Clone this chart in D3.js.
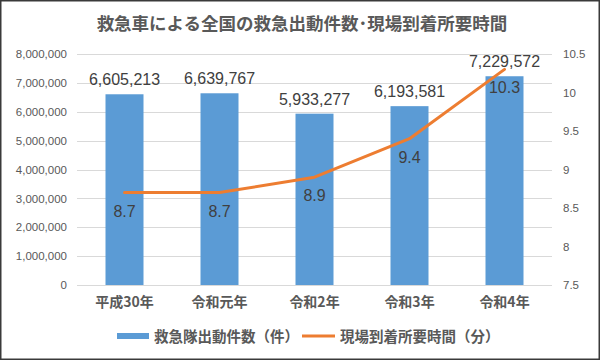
<!DOCTYPE html>
<html>
<head>
<meta charset="utf-8">
<script src="https://cdn.jsdelivr.net/npm/d3@7"></script>
<style>
    body { margin: 0; background: #fff; }
    svg text { font-family: "Noto Sans CJK JP", "Noto Sans", sans-serif; }
    .num { font-family: "Liberation Sans", Arial, sans-serif !important; }
</style>
</head>
<body>
<svg width="600" height="360"></svg>
<script>
const years = ["平成30年", "令和元年", "令和2年", "令和3年", "令和4年"]
const dispatchCounts = [6605213, 6639767, 5933277, 6193581, 7229572]
const arrivalMinutes = [8.7, 8.7, 8.9, 9.4, 10.3]
const leftTicks = [0, 1000000, 2000000, 3000000, 4000000, 5000000, 6000000, 7000000, 8000000]
const rightTicks = [7.5, 8, 8.5, 9, 9.5, 10, 10.5]

const svg = d3.select("svg")
const margin = { top: 54, left: 77, right: 48, bottom: 75 }
const width = 600 - margin.left - margin.right
const height = 360 - margin.top - margin.bottom

svg.append("rect").attr("x", 0.75).attr("y", 0.75).attr("width", 598.5).attr("height", 358.5)
    .attr("fill", "#fff").attr("stroke", "#3a3a3a").attr("stroke-width", 1.5)

svg.append("text").attr("x", 302).attr("y", 30).attr("text-anchor", "middle")
    .attr("font-size", 17.5).attr("font-weight", "bold").attr("fill", "#595959")
    .text("救急車による全国の救急出動件数･現場到着所要時間")

const g = svg.append("g").attr("transform", `translate(${margin.left},${margin.top})`)

let x = d3.scaleBand().domain(years).range([0, width]).paddingInner(0.6).paddingOuter(0.3)
let yL = d3.scaleLinear().domain([0, 8000000]).range([height, 0])
let yR = d3.scaleLinear().domain([7.5, 10.5]).range([height, 0])

// gridlines
g.append("g").selectAll("line").data(leftTicks).enter().append("line")
    .attr("x1", 0).attr("x2", width)
    .attr("y1", d => Math.round(yL(d)) + 0.5).attr("y2", d => Math.round(yL(d)) + 0.5)
    .attr("stroke", "#d9d9d9").attr("stroke-width", 1)

// left axis
let leftAxis = d3.axisLeft(yL).tickValues(leftTicks).tickFormat(d3.format(",")).tickSize(0).tickPadding(10)
g.append("g").call(leftAxis).call(s => s.select(".domain").remove())
    .selectAll("text").attr("class", "num").attr("font-size", 11.5).attr("fill", "#595959")

// right axis
let rightAxis = d3.axisRight(yR).tickValues(rightTicks).tickFormat(d => d).tickSize(0).tickPadding(11)
g.append("g").attr("transform", `translate(${width},0)`).call(rightAxis).call(s => s.select(".domain").remove())
    .selectAll("text").attr("class", "num").attr("font-size", 11.5).attr("fill", "#595959")

// category axis
let bottomAxis = d3.axisBottom(x).tickSize(0).tickPadding(12)
g.append("g").attr("transform", `translate(0,${height})`).call(bottomAxis)
    .call(s => s.select(".domain").remove())
    .selectAll("text").attr("font-size", 14).attr("font-weight", "bold").attr("fill", "#595959")

// bars
g.append("g").selectAll("rect").data(dispatchCounts).enter().append("rect")
    .attr("x", (d, i) => x(years[i])).attr("width", x.bandwidth())
    .attr("y", d => yL(d)).attr("height", d => height - yL(d))
    .attr("fill", "#5b9bd5")

g.append("g").selectAll("text").data(dispatchCounts).enter().append("text")
    .attr("class", "num")
    .attr("x", (d, i) => x(years[i]) + x.bandwidth() / 2).attr("y", d => yL(d) - 9)
    .attr("text-anchor", "middle").attr("font-size", 16).attr("fill", "#404040")
    .text(d => d3.format(",")(d))

// line
let lineGenerator = d3.line().x((d, i) => x(years[i]) + x.bandwidth() / 2).y(d => yR(d))
g.append("path").datum(arrivalMinutes).attr("d", lineGenerator)
    .attr("fill", "none").attr("stroke", "#ed7d31").attr("stroke-width", 3).attr("stroke-linejoin", "round").attr("stroke-linecap", "round")

g.append("g").selectAll("text").data(arrivalMinutes).enter().append("text")
    .attr("class", "num")
    .attr("x", (d, i) => x(years[i]) + x.bandwidth() / 2).attr("y", d => yR(d) + 24)
    .attr("text-anchor", "middle").attr("font-size", 16).attr("fill", "#404040")
    .text(d => d)

// legend
let legend = svg.append("g").attr("transform", "translate(0,336)")
legend.append("rect").attr("x", 117).attr("y", -3).attr("width", 32).attr("height", 6).attr("fill", "#5b9bd5")
legend.append("text").attr("x", 154).attr("y", 5.5).attr("font-size", 14.5).attr("font-weight", "bold").attr("fill", "#595959")
    .text("救急隊出動件数（件）")
legend.append("line").attr("x1", 302).attr("x2", 335).attr("y1", 0).attr("y2", 0)
    .attr("stroke", "#ed7d31").attr("stroke-width", 3)
legend.append("text").attr("x", 340).attr("y", 5.5).attr("font-size", 14.5).attr("font-weight", "bold").attr("fill", "#595959")
    .text("現場到着所要時間（分）")
</script>
</body>
</html>
